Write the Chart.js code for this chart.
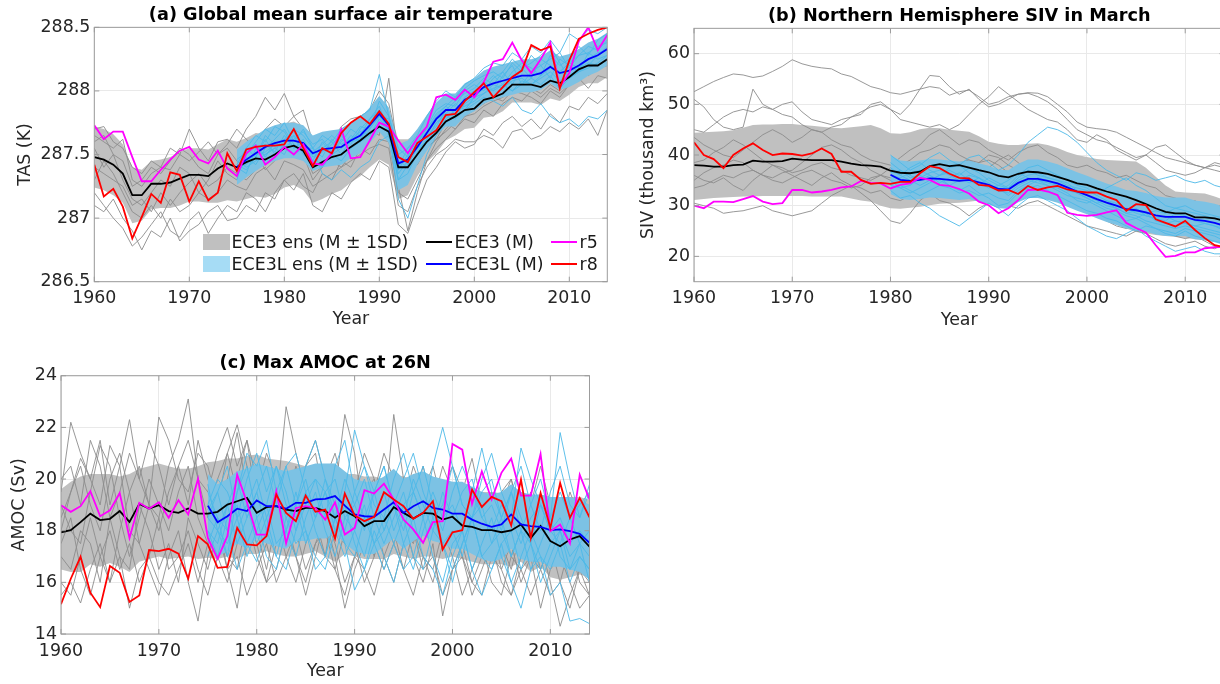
<!DOCTYPE html>
<html><head><meta charset="utf-8">
<script src="https://cdn.jsdelivr.net/npm/chart.js@4.4.1/dist/chart.umd.min.js"></script>
<style>
html,body{margin:0;padding:0;width:1220px;height:684px;overflow:hidden;background:#fff;}
canvas{position:absolute;}
.lg{position:absolute;font-family:"DejaVu Sans",sans-serif;font-size:17.4px;color:#1a1a1a;line-height:20px;white-space:nowrap;}
.sw{position:absolute;}
</style></head><body>
<canvas id="ca" width="620" height="340" style="left:0;top:0"></canvas>
<canvas id="cb" width="620" height="340" style="left:620px;top:0"></canvas>
<canvas id="cc" width="620" height="344" style="left:0;top:340px"></canvas>
<div id="legend"></div>
<script>
// ---------------- common ticks ----------------
const E3_START = 1960;
const X_TICKS = [1960, 1970, 1980, 1990, 2000, 2010];
const X_TICK_LABELS = ['1960', '1970', '1980', '1990', '2000', '2010'];

// ================= (a) Global mean surface air temperature =================
const TAS_L_START = 1975;
const TAS_Y_TICKS = [286.5, 287, 287.5, 288, 288.5];
const TAS_Y_LABELS = ['286.5', '287', '287.5', '288', '288.5'];
const TAS_E3_MEAN = [
287.48,287.46,287.42,287.35,287.18,287.18,287.27,287.27,287.28,287.31,
287.34,287.34,287.33,287.39,287.43,287.40,287.44,287.47,287.46,287.50,
287.55,287.57,287.53,287.40,287.44,287.48,287.50,287.56,287.61,287.67,
287.72,287.68,287.40,287.40,287.50,287.60,287.67,287.76,287.80,287.85,
287.86,287.93,287.95,287.98,288.05,288.05,288.05,288.03,288.08,288.06,
288.11,288.17,288.20,288.20,288.25];
const TAS_E3_HI = [
287.72,287.70,287.66,287.58,287.40,287.38,287.45,287.46,287.48,287.52,
287.55,287.55,287.54,287.58,287.62,287.60,287.63,287.67,287.66,287.70,
287.74,287.76,287.72,287.60,287.64,287.68,287.70,287.75,287.80,287.85,
287.90,287.86,287.62,287.62,287.67,287.76,287.83,287.91,287.95,288.00,
288.01,288.07,288.10,288.12,288.19,288.19,288.19,288.17,288.22,288.20,
288.25,288.31,288.34,288.34,288.39];
const TAS_E3_LO = [
287.24,287.22,287.18,287.12,286.96,286.98,287.07,287.08,287.08,287.10,
287.13,287.13,287.12,287.12,287.14,287.13,287.15,287.17,287.16,287.19,
287.24,287.26,287.22,287.12,287.15,287.19,287.22,287.28,287.33,287.40,
287.46,287.42,287.15,287.18,287.33,287.44,287.51,287.61,287.65,287.70,
287.71,287.79,287.80,287.84,287.91,287.91,287.91,287.89,287.94,287.92,
287.97,288.03,288.06,288.06,288.11];
const TAS_E3L_MEAN = [
287.40,287.46,287.51,287.56,287.59,
287.61,287.61,287.59,287.51,287.54,287.55,287.56,287.61,287.65,287.73,
287.82,287.73,287.43,287.46,287.56,287.67,287.78,287.85,287.85,287.93,
287.97,288.03,288.06,288.08,288.10,288.12,288.12,288.14,288.19,288.14,
288.16,288.20,288.25,288.28,288.33];
const TAS_E3L_HI = [
287.54,287.60,287.65,287.70,287.73,
287.75,287.75,287.73,287.65,287.68,287.69,287.70,287.75,287.79,287.87,
287.96,287.87,287.58,287.61,287.70,287.81,287.91,287.98,287.98,288.06,
288.10,288.16,288.19,288.21,288.23,288.25,288.25,288.27,288.32,288.27,
288.29,288.33,288.38,288.41,288.46];
const TAS_E3L_LO = [
287.26,287.32,287.37,287.42,287.45,
287.47,287.47,287.45,287.37,287.40,287.41,287.42,287.47,287.51,287.59,
287.68,287.59,287.22,287.26,287.42,287.53,287.65,287.72,287.72,287.80,
287.84,287.90,287.93,287.95,287.97,287.99,287.99,288.01,288.06,288.01,
288.03,288.07,288.12,288.15,288.20];
const TAS_R5 = [
287.73,287.62,287.68,287.68,287.48,287.29,287.29,287.38,287.46,287.53,
287.56,287.46,287.43,287.53,287.39,287.33,287.51,287.57,287.42,287.48,
287.56,287.50,287.58,287.43,287.42,287.51,287.70,287.47,287.48,287.61,
287.75,287.72,287.61,287.51,287.63,287.72,287.95,287.97,287.93,288.01,
287.95,288.07,288.23,288.25,288.38,288.24,288.14,288.25,288.38,288.03,
288.14,288.39,288.50,288.32,288.44];
const TAS_R8 = [
287.42,287.17,287.23,287.09,286.84,287.01,287.19,287.12,287.36,287.34,
287.13,287.29,287.14,287.20,287.51,287.37,287.54,287.56,287.57,287.57,
287.58,287.70,287.55,287.41,287.55,287.51,287.67,287.75,287.80,287.74,
287.84,287.74,287.48,287.44,287.59,287.64,287.69,287.81,287.82,287.92,
287.99,288.06,287.95,288.03,288.11,288.16,288.36,288.32,288.35,288.02,
288.24,288.41,288.45,288.48,288.50];
const TAS_E3_MEMBERS = [
[287.70,287.72,287.60,287.55,287.40,287.35,287.45,287.40,287.55,287.50,
 287.70,287.55,287.45,287.60,287.62,287.55,287.70,287.80,287.95,287.85,
 287.98,287.80,287.70,287.55,287.65,287.60,287.72,287.78,287.80,287.85,
 288.00,287.90,287.55,287.50,287.62,287.70,287.80,287.88,287.92,287.98,
 288.00,288.05,288.10,288.05,288.15,288.12,288.20,288.10,288.18,288.15,
 288.22,288.30,288.28,288.35,288.40],
[287.20,287.10,287.00,286.92,286.78,286.85,286.95,287.05,286.90,286.85,
 286.98,287.05,286.88,287.00,287.10,287.05,287.20,287.15,287.05,287.20,
 287.30,287.22,287.35,287.10,287.05,287.20,287.15,287.28,287.35,287.30,
 287.45,287.40,286.95,286.88,287.10,287.30,287.40,287.52,287.60,287.55,
 287.58,287.70,287.65,287.75,287.80,287.72,287.78,287.70,287.82,287.75,
 287.88,287.85,287.95,287.90,287.98],
[287.55,287.40,287.50,287.30,287.15,287.10,287.20,287.30,287.25,287.40,
 287.35,287.20,287.30,287.45,287.35,287.30,287.40,287.50,287.38,287.45,
 287.60,287.65,287.50,287.30,287.40,287.50,287.55,287.52,287.60,287.70,
 287.65,288.10,287.45,287.30,287.45,287.55,287.62,287.75,287.70,287.80,
 287.85,287.90,287.95,287.92,288.00,288.10,288.02,287.98,288.05,288.00,
 288.10,288.15,288.12,288.18,288.20],
[287.30,287.45,287.35,287.20,287.05,287.00,287.10,287.00,287.15,287.05,
 287.10,287.20,287.15,287.20,287.30,287.25,287.22,287.35,287.40,287.30,
 287.45,287.42,287.38,287.25,287.30,287.35,287.40,287.45,287.50,287.55,
 287.58,287.55,287.10,287.05,287.25,287.40,287.50,287.55,287.62,287.60,
 287.60,287.65,287.62,287.55,287.68,287.70,287.62,287.65,287.72,287.68,
 287.75,287.70,287.78,287.65,287.85],
[287.65,287.60,287.55,287.62,287.30,287.25,287.35,287.40,287.38,287.50,
 287.45,287.52,287.60,287.50,287.58,287.70,287.62,287.55,287.70,287.78,
 287.72,287.80,287.85,287.60,287.55,287.65,287.70,287.68,287.75,287.80,
 287.88,287.82,287.50,287.45,287.60,287.72,287.78,287.85,287.95,288.00,
 287.98,288.10,288.12,288.08,288.18,288.22,288.15,288.20,288.25,288.18,
 288.28,288.32,288.35,288.30,288.42],
[287.10,287.05,287.15,287.00,286.90,286.75,286.90,286.85,287.00,286.82,
 286.90,286.95,287.05,287.10,286.98,287.00,287.10,287.05,287.20,287.15,
 287.30,287.35,287.25,287.20,287.35,287.30,287.45,287.40,287.55,287.50,
 287.62,287.60,287.20,287.15,287.30,287.45,287.55,287.62,287.70,287.78,
 287.75,287.85,287.80,287.90,287.95,287.92,288.00,287.95,288.02,287.98,
 288.05,288.10,288.02,288.12,288.10],
[287.60,287.65,287.50,287.45,287.25,287.30,287.40,287.35,287.45,287.55,
 287.50,287.40,287.35,287.50,287.55,287.45,287.52,287.60,287.65,287.58,
 287.62,287.70,287.60,287.45,287.50,287.58,287.62,287.70,287.72,287.78,
 287.80,287.75,287.25,286.90,287.20,287.45,287.60,287.70,287.78,287.82,
 287.90,287.95,287.98,288.00,288.05,288.02,288.10,288.05,288.12,288.10,
 288.15,288.20,288.25,288.22,288.30],
[287.40,287.35,287.30,287.25,287.10,287.15,287.05,287.20,287.10,287.20,
 287.28,287.35,287.25,287.30,287.40,287.35,287.30,287.38,287.45,287.55,
 287.50,287.48,287.55,287.35,287.40,287.45,287.40,287.50,287.58,287.62,
 287.70,287.65,287.35,287.38,287.42,287.55,287.62,287.68,287.75,287.80,
 287.82,287.88,287.92,287.95,288.00,287.98,287.95,287.90,288.00,287.95,
 288.05,288.10,288.15,288.18,288.20]];
const TAS_E3L_MEMBERS = [
[287.35,287.50,287.60,287.70,287.65,287.75,287.60,287.70,287.55,287.65,
 287.60,287.70,287.75,287.80,287.85,288.13,287.80,287.50,287.55,287.65,
 287.80,287.92,288.00,287.95,288.05,288.10,288.18,288.22,288.20,288.30,
 288.25,288.35,288.30,288.40,288.30,288.45,288.40,288.48,288.45,288.50],
[287.45,287.40,287.45,287.50,287.55,287.50,287.65,287.50,287.45,287.40,
 287.50,287.45,287.55,287.60,287.65,287.75,287.70,287.15,287.00,287.25,
 287.50,287.65,287.75,287.80,287.85,287.90,287.95,287.92,287.88,287.95,
 287.85,287.82,287.90,287.80,287.75,287.78,287.72,287.80,287.78,287.85],
[287.30,287.55,287.65,287.60,287.72,287.68,287.55,287.60,287.45,287.60,
 287.50,287.62,287.58,287.70,287.78,287.85,287.65,287.35,287.45,287.60,
 287.72,287.85,287.90,287.88,288.00,288.05,288.00,288.10,288.15,288.05,
 288.18,288.10,288.25,288.20,288.15,288.22,288.28,288.30,288.35,288.38],
[287.42,287.38,287.48,287.62,287.50,287.58,287.70,287.65,287.55,287.48,
 287.62,287.55,287.65,287.60,287.70,287.80,287.78,287.45,287.40,287.50,
 287.62,287.75,287.82,287.90,287.85,287.95,288.08,288.00,288.12,288.20,
 288.05,288.15,288.20,288.10,288.25,288.20,288.15,288.30,288.25,288.28],
[287.38,287.48,287.42,287.55,287.62,287.70,287.58,287.52,287.50,287.55,
 287.60,287.50,287.62,287.68,287.65,287.78,287.70,287.40,287.55,287.60,
 287.68,287.80,287.88,287.82,287.95,288.00,288.05,288.12,288.05,288.15,
 288.22,288.18,288.12,288.28,288.20,288.25,288.35,288.28,288.40,288.45],
[287.46,287.52,287.58,287.48,287.60,287.55,287.62,287.68,287.58,287.62,
 287.52,287.60,287.70,287.65,287.78,287.88,287.68,287.48,287.42,287.58,
 287.72,287.78,287.82,287.80,287.90,287.95,288.02,288.00,288.05,288.00,
 288.08,288.05,288.10,288.15,288.08,288.12,288.18,288.22,288.20,288.25],
[287.40,287.35,287.55,287.58,287.52,287.65,287.55,287.62,287.48,287.52,
 287.58,287.65,287.55,287.62,287.75,287.82,287.75,287.38,287.50,287.55,
 287.65,287.72,287.85,287.92,287.98,288.02,288.10,288.05,288.15,288.25,
 288.18,288.22,288.28,288.35,288.22,288.10,288.15,288.20,288.28,288.35],
[287.35,287.45,287.50,287.52,287.58,287.55,287.50,287.55,287.55,287.35,
 287.30,287.38,287.32,287.40,287.45,287.60,287.65,287.30,287.42,287.55,
 287.60,287.70,287.78,287.85,287.88,287.92,287.98,288.05,288.02,288.08,
 288.10,288.05,288.12,288.18,288.15,288.22,288.18,288.25,288.30,288.32],
[287.42,287.55,287.48,287.65,287.58,287.62,287.68,287.55,287.52,287.58,
 287.65,287.58,287.62,287.72,287.70,287.92,287.80,287.55,287.48,287.62,
 287.70,287.82,287.88,287.95,288.02,288.08,288.12,288.15,288.10,288.22,
 288.15,288.28,288.20,288.25,288.30,288.18,288.28,288.35,288.32,288.40],
[287.40,287.42,287.52,287.50,287.55,287.60,287.65,287.58,287.50,287.55,
 287.50,287.55,287.60,287.62,287.72,287.80,287.72,287.30,287.35,287.52,
 287.62,287.75,287.80,287.78,287.85,287.95,287.98,288.02,288.05,288.00,
 288.05,288.10,288.05,288.12,288.02,288.10,288.15,288.18,288.22,288.28]];

// ================= (b) Northern Hemisphere SIV in March =================
const SIV_L_START = 1980;
const SIV_Y_TICKS = [20, 30, 40, 50, 60];
const SIV_Y_LABELS = ['20', '30', '40', '50', '60'];
const SIV_E3_MEAN = [
38.0,37.9,37.7,37.7,38.0,38.1,38.9,38.7,38.7,38.8,
39.3,39.1,39.0,39.0,39.0,38.7,38.3,38.0,37.9,37.7,
36.9,36.5,36.4,36.7,37.8,38.2,37.8,38.0,37.5,37.0,
36.6,35.9,35.6,36.3,36.7,36.6,36.3,35.7,35.1,34.4,
34.1,33.4,32.8,32.3,31.8,31.1,30.3,29.5,28.8,28.5,
28.5,27.7,27.7,27.5,27.0];
const SIV_E3_HI = [
44.4,44.5,44.6,44.7,44.9,45.4,45.9,46.0,46.0,46.1,
46.1,45.9,45.8,45.6,45.4,45.3,45.5,45.7,45.9,45.3,
44.3,44.2,44.5,45.1,45.4,45.3,45.0,44.8,44.6,43.7,
42.6,42.2,42.0,42.0,42.2,42.3,42.0,41.4,40.6,40.0,
39.6,39.2,39.0,38.9,38.8,38.7,37.5,35.7,34.0,32.8,
32.6,32.5,32.4,31.8,31.1];
const SIV_E3_LO = [
31.1,31.3,31.5,31.6,31.7,31.8,31.8,31.9,31.9,31.9,
31.9,31.9,31.8,31.8,31.8,31.8,31.4,31.0,30.8,30.0,
29.5,29.4,29.6,29.8,30.1,30.4,30.5,30.6,30.8,31.0,
31.1,31.3,31.5,31.7,31.9,32.1,31.6,30.9,30.2,29.4,
28.7,27.8,27.0,26.3,25.5,24.8,24.5,24.2,24.0,23.8,
23.6,23.4,23.2,22.9,22.6];
const SIV_E3L_MEAN = [
36.1,35.1,34.9,35.1,35.4,35.3,35.1,34.9,35.1,34.6,
34.1,33.3,33.2,34.5,35.3,35.3,34.9,34.4,33.6,32.8,
32.1,31.3,30.6,30.0,29.3,29.1,28.7,28.1,27.8,27.8,
27.8,27.2,27.0,26.6,26.0];
const SIV_E3L_HI = [
39.9,38.9,38.7,38.9,39.2,39.1,38.9,38.7,38.9,38.4,
37.9,37.1,37.0,38.3,39.1,39.1,38.7,38.2,37.4,36.6,
35.9,35.1,34.4,33.8,33.1,32.9,32.5,31.9,31.6,31.6,
31.6,31.0,30.8,30.4,29.8];
const SIV_E3L_LO = [
32.3,31.3,31.1,31.3,31.6,31.5,31.3,31.1,31.3,30.8,
30.3,29.5,29.4,30.7,31.5,31.5,31.1,30.6,29.8,29.0,
28.3,27.5,26.8,26.2,25.5,25.3,24.9,24.3,24.0,24.0,
24.0,23.4,23.2,22.8,22.2];
const SIV_R5 = [
30.0,29.5,30.8,30.8,30.7,31.3,31.9,30.8,30.3,30.5,
33.1,33.1,32.6,32.8,33.1,33.6,33.8,34.9,34.5,34.4,
33.4,34.1,34.4,35.5,35.1,34.1,33.9,33.3,32.4,30.8,
30.1,28.5,29.5,31.1,33.1,33.2,32.8,32.1,28.6,28.2,
28.0,28.2,28.7,29.1,26.6,25.6,24.7,22.2,19.9,20.1,
20.8,20.8,21.6,21.8,21.9];
const SIV_R8 = [
42.5,40.0,39.2,37.4,40.0,41.3,42.3,41.0,40.0,40.3,
40.2,39.9,40.3,41.3,40.2,36.7,36.7,35.1,34.3,34.5,
34.3,34.7,34.7,36.4,37.8,37.4,36.3,35.5,35.4,34.1,
33.9,33.0,33.1,32.3,33.9,33.1,33.6,33.9,33.2,32.8,
32.6,32.6,31.8,31.1,29.0,30.3,30.1,27.3,26.6,25.9,
27.0,25.2,23.6,22.2,21.8];
const SIV_E3_MEMBERS = [
[52.5,53.5,54.5,55.3,56.0,55.8,55.3,55.6,56.5,57.5,
 58.8,58.0,57.5,57.2,57.0,56.0,55.5,54.5,53.5,53.0,
 52.3,52.0,52.5,53.0,53.5,53.2,51.8,52.5,52.8,51.5,
 50.0,50.5,51.5,52.0,52.3,52.2,51.5,50.0,48.5,46.5,
 45.5,45.2,45.0,44.5,43.5,42.5,41.5,40.5,39.5,39.0,
 38.5,38.0,37.5,37.0,36.5],
[51.0,49.5,47.0,45.5,45.0,45.5,53.0,50.0,49.0,48.0,
 47.5,46.0,45.0,44.5,45.5,46.0,47.5,48.5,49.5,50.0,
 49.0,48.0,50.0,53.0,55.7,55.5,53.5,52.0,53.0,51.0,
 49.5,50.0,51.0,52.0,52.2,51.5,50.5,49.0,47.0,45.0,
 44.0,43.0,42.5,41.5,40.5,39.5,40.0,38.5,37.0,36.5,
 36.0,36.5,37.5,38.0,37.5],
[45.0,44.5,46.0,47.5,48.5,49.0,48.5,49.5,49.0,50.0,
 50.5,48.5,47.0,46.5,46.0,47.0,47.5,48.0,50.0,50.5,
 49.0,47.0,46.5,46.0,45.5,46.0,45.0,46.0,48.0,50.0,
 51.5,53.5,52.0,50.5,49.0,48.0,47.0,46.5,45.0,43.0,
 42.5,44.0,43.0,41.0,40.0,39.0,40.0,41.5,42.0,40.5,
 39.0,38.0,37.5,38.5,38.0],
[36.0,35.0,34.5,35.5,34.0,33.0,35.0,36.5,38.0,37.0,
 36.0,35.0,34.0,35.5,36.5,35.0,34.0,33.5,32.5,33.0,
 31.5,31.0,32.0,33.5,35.0,36.0,37.5,38.5,39.0,38.0,
 37.5,39.0,40.0,38.5,37.0,38.0,37.5,36.0,35.5,36.0,
 35.0,34.5,33.5,32.0,31.5,30.5,30.0,29.0,28.0,27.5,
 27.0,26.5,25.5,24.5,24.0],
[30.5,30.0,29.5,28.5,28.8,29.0,29.5,30.0,29.0,28.5,
 28.0,28.5,29.0,30.5,32.0,33.0,34.0,32.5,31.0,29.0,
 27.0,26.5,28.5,31.0,32.5,31.0,30.5,29.5,28.0,29.5,
 30.5,31.0,30.0,29.5,30.5,31.0,30.0,29.0,28.0,27.0,
 26.0,25.5,25.0,24.5,24.0,25.0,24.5,23.5,22.5,22.0,
 22.5,23.0,22.0,21.5,22.5],
[38.5,39.0,40.5,41.5,43.0,42.0,40.5,39.0,38.0,37.5,
 36.5,37.0,38.0,38.5,37.5,37.0,36.0,35.5,35.0,36.0,
 37.5,38.0,39.0,40.5,41.0,42.0,41.5,40.0,39.0,38.5,
 40.0,39.5,38.0,37.0,36.5,35.5,36.0,37.0,36.5,35.0,
 34.0,33.0,32.5,33.0,32.0,31.0,30.0,29.5,28.5,28.0,
 27.5,27.0,26.0,25.5,26.0],
[33.5,34.0,35.0,36.0,35.5,36.5,37.0,36.0,35.0,34.5,
 35.5,36.5,37.0,36.0,35.0,34.5,33.5,34.0,35.5,36.0,
 35.0,33.5,32.5,31.5,32.0,33.0,33.5,34.5,35.0,34.0,
 33.0,32.0,31.5,32.5,34.0,35.0,34.5,33.5,32.0,30.5,
 29.0,28.0,27.0,26.0,25.5,26.5,27.0,26.0,25.0,24.0,
 23.5,24.0,23.0,22.0,21.5],
[43.5,42.0,41.0,40.0,39.5,41.0,42.5,44.0,45.0,44.0,
 42.5,43.5,45.0,44.5,43.0,42.0,41.5,40.0,39.0,38.5,
 38.0,39.5,41.0,42.0,44.0,45.0,43.5,42.0,43.0,42.5,
 41.0,40.0,39.0,40.5,41.5,42.0,40.5,39.5,38.0,37.5,
 38.0,37.0,36.5,35.5,36.0,35.0,34.0,33.5,32.0,31.5,
 30.5,31.0,29.5,29.0,28.5],
[35.0,36.5,37.5,38.0,39.0,38.5,37.0,36.0,35.5,36.5,
 37.0,38.5,40.0,41.5,42.0,41.0,39.5,38.5,37.0,36.0,
 35.5,36.5,37.5,36.0,35.0,34.0,35.0,36.0,37.0,38.5,
 39.0,38.0,36.5,35.0,34.5,33.5,33.0,32.5,33.5,34.0,
 33.0,32.0,31.0,30.0,29.0,28.5,29.0,28.0,27.5,26.5,
 26.0,25.5,25.0,24.5,24.0]];
const SIV_E3L_MEMBERS = [
[40.0,38.5,37.0,38.0,39.5,40.5,39.0,38.0,39.5,40.0,
 38.5,37.0,38.0,40.0,42.5,44.0,45.5,45.0,44.0,42.5,
 40.5,38.5,37.0,36.0,35.0,36.5,36.0,35.0,35.5,36.0,
 35.0,34.5,35.0,34.0,33.5],
[33.0,31.5,32.0,30.5,29.5,28.0,27.0,26.0,27.5,29.0,
 30.5,29.5,28.0,30.0,31.5,32.0,31.0,30.0,29.0,27.5,
 26.0,25.0,24.0,23.5,24.5,25.5,24.0,23.0,22.0,21.0,
 21.5,22.0,21.0,20.5,20.5],
[37.5,36.0,37.5,38.5,37.0,36.0,37.5,38.0,36.5,35.5,
 34.0,33.0,34.0,36.0,37.5,38.0,37.0,36.0,35.0,34.0,
 33.5,32.0,31.0,30.5,29.0,29.5,28.0,27.5,27.0,28.5,
 28.0,27.0,26.5,26.0,25.0],
[34.0,33.5,32.5,33.5,34.5,35.5,34.0,33.0,34.0,32.5,
 31.5,30.0,30.5,32.5,33.5,34.0,33.0,32.0,31.0,30.0,
 29.0,28.5,27.5,27.0,26.0,25.0,26.0,25.5,24.5,24.0,
 25.0,24.0,23.5,23.0,22.5],
[36.5,37.0,36.0,35.0,36.0,34.5,35.5,36.5,35.0,34.0,
 35.5,34.5,33.5,35.0,36.0,36.5,35.5,35.0,34.0,33.5,
 33.0,32.0,33.5,34.5,35.5,34.0,33.0,31.5,30.0,29.5,
 30.0,29.0,28.5,28.0,27.5],
[35.0,33.5,34.0,35.5,36.5,37.0,36.0,35.0,36.0,35.5,
 34.5,33.0,32.5,34.0,35.0,34.5,34.0,33.0,32.0,31.5,
 31.0,30.0,29.0,28.0,27.0,27.5,26.5,25.5,25.0,24.5,
 25.5,25.0,24.5,24.0,23.0],
[38.5,37.0,35.5,36.0,35.0,36.0,37.0,36.0,37.5,36.5,
 35.0,34.0,33.5,35.5,37.0,36.0,35.5,35.0,34.5,33.0,
 32.0,31.0,30.0,29.5,28.5,29.0,28.5,27.0,26.5,27.0,
 26.5,26.0,25.5,25.0,24.5],
[33.5,34.0,33.0,32.0,33.0,34.0,33.5,32.5,33.0,32.0,
 32.5,31.5,31.0,33.0,34.0,35.0,34.0,33.5,32.5,31.0,
 30.5,31.5,30.5,29.5,28.5,28.0,27.0,26.5,26.0,25.5,
 26.0,25.5,25.0,24.5,24.0],
[36.0,35.5,36.5,37.0,36.0,35.0,34.0,35.0,35.5,34.5,
 33.5,34.0,35.0,36.5,35.5,35.0,34.5,34.0,33.0,32.5,
 31.5,30.5,29.5,29.0,28.0,27.5,28.5,29.0,28.5,29.5,
 29.0,28.5,28.0,27.5,27.0],
[37.0,36.0,35.0,34.0,35.0,36.0,36.5,35.5,34.5,35.5,
 34.0,33.5,32.0,33.5,34.5,35.5,35.0,34.0,33.5,32.5,
 31.5,30.5,31.0,30.0,29.5,28.5,28.0,27.5,28.0,27.0,
 26.5,26.0,26.5,26.0,25.5]];

// ================= (c) Max AMOC at 26N =================
const AMOC_L_START = 1975;
const AMOC_Y_TICKS = [14, 16, 18, 20, 22, 24];
const AMOC_Y_LABELS = ['14', '16', '18', '20', '22', '24'];
const AMOC_E3_MEAN = [
17.94,18.02,18.33,18.66,18.41,18.46,18.76,18.34,19.04,18.86,
18.99,18.76,18.69,18.86,18.66,18.66,18.73,19.01,19.14,19.27,
18.69,18.91,18.95,18.82,18.76,18.88,18.88,18.76,18.50,18.76,
18.56,18.18,18.37,18.37,18.91,18.69,18.47,18.69,18.66,18.43,
18.54,18.20,18.15,18.02,18.02,17.94,18.01,18.24,17.72,18.18,
17.60,17.40,17.66,17.79,17.38];
const AMOC_E3_HI = [
19.6,19.9,20.1,20.2,20.2,20.2,20.1,20.2,20.4,20.5,
20.6,20.5,20.4,20.4,20.5,20.65,20.7,20.8,20.8,20.9,
20.95,20.8,20.75,20.7,20.6,20.5,20.4,20.4,20.3,20.2,
20.2,20.1,20.1,20.0,20.2,20.1,20.0,19.9,19.9,19.8,
19.7,19.6,19.6,19.5,19.5,19.45,19.5,19.5,19.3,19.4,
19.3,19.2,19.3,19.3,19.2];
const AMOC_E3_LO = [
16.5,16.4,16.4,16.7,16.6,16.75,16.6,16.4,16.8,16.9,
17.0,16.9,16.95,17.0,16.9,16.95,16.9,17.0,16.9,17.1,
17.1,17.2,17.1,17.0,17.0,17.1,17.2,17.0,16.8,17.1,
17.0,16.9,16.9,16.9,17.1,17.0,16.9,17.0,17.0,16.9,
17.0,16.9,16.8,16.7,16.7,16.7,16.6,16.8,16.4,16.6,
16.2,16.1,16.2,16.3,16.2];
const AMOC_E3L_MEAN = [
18.97,18.33,18.56,18.85,18.76,
19.17,18.95,18.95,18.85,19.08,19.08,19.21,19.23,19.34,18.97,
18.63,18.56,18.54,18.82,19.10,18.69,18.95,19.14,18.88,18.82,
18.66,18.66,18.43,18.27,18.15,18.24,18.63,18.24,18.18,18.15,
18.02,18.05,17.98,17.88,17.53];
const AMOC_E3L_HI = [
20.2,19.8,20.0,20.3,20.4,
20.6,20.5,20.4,20.3,20.4,20.5,20.6,20.6,20.6,20.3,
20.0,19.9,19.9,20.1,20.4,20.0,20.2,20.3,20.1,20.0,
19.9,19.9,19.7,19.5,19.4,19.5,19.8,19.5,19.4,19.4,
19.3,19.3,19.3,19.2,19.0];
const AMOC_E3L_LO = [
17.6,17.0,17.2,17.5,17.3,
17.7,17.5,17.4,17.3,17.6,17.6,17.7,17.7,17.9,17.5,
17.2,17.1,17.1,17.4,17.7,17.3,17.6,17.8,17.6,17.5,
17.3,17.3,17.1,16.9,16.8,16.9,17.3,16.9,16.8,16.8,
16.6,16.6,16.5,16.4,16.1];
const AMOC_R5 = [
18.99,18.73,18.95,19.53,18.56,18.79,19.46,17.72,19.08,18.85,
19.10,18.50,19.18,18.63,20.01,17.72,16.91,17.79,20.17,19.10,
17.85,17.85,19.53,17.51,18.88,18.95,18.88,18.43,19.10,17.85,
18.11,19.57,19.44,19.82,19.21,18.43,18.05,17.53,18.33,18.37,
21.36,21.14,19.04,20.30,19.21,20.24,20.79,19.36,19.36,20.97,
17.98,18.24,17.51,20.17,19.21];
const AMOC_R8 = [
15.15,16.14,16.99,15.60,15.04,16.63,16.37,15.24,15.49,17.25,
17.21,17.30,17.11,16.14,17.79,17.47,16.56,16.60,18.11,17.47,
17.43,17.79,19.40,18.69,18.37,19.36,18.73,18.82,17.69,19.44,
18.59,18.37,18.54,19.49,19.21,18.95,18.46,18.69,19.14,17.27,
17.94,18.02,19.59,18.92,19.31,19.14,18.20,19.98,17.72,19.46,
18.11,19.85,18.50,19.27,18.52];
const AMOC_E3_MEMBERS = [
[19.5,22.2,21.0,20.0,19.0,21.3,20.5,18.0,17.5,19.0,
 22.4,21.5,20.0,19.5,21.0,20.5,19.0,20.0,21.8,19.5,
 18.5,17.5,19.0,22.8,21.0,19.5,18.0,17.0,19.5,22.5,
 21.0,18.5,17.0,19.0,18.0,17.5,19.0,20.5,19.0,17.5,
 18.0,19.5,18.0,17.0,18.5,17.5,16.5,18.0,17.0,16.5,
 17.5,18.0,16.8,17.5,16.5],
[16.0,15.5,17.0,18.5,17.0,16.0,18.0,19.5,17.5,16.5,
 15.5,17.0,18.0,16.0,14.5,17.0,18.5,16.5,15.0,17.5,
 18.0,16.5,18.5,17.0,16.0,17.5,18.5,17.0,16.5,18.0,
 17.5,16.0,17.0,18.5,17.5,16.5,18.0,17.0,16.0,17.5,
 18.5,17.0,16.0,15.5,17.0,16.5,15.5,17.0,18.0,16.5,
 15.5,16.0,17.5,16.0,15.5],
[18.5,19.5,20.8,20.0,21.5,19.0,20.5,22.3,20.0,19.0,
 18.5,20.5,21.5,23.1,20.0,19.5,21.0,22.0,20.5,21.5,
 19.0,18.0,20.0,19.5,18.5,20.5,21.0,19.0,18.0,17.5,
 19.5,21.0,20.0,18.5,22.5,20.0,19.5,18.0,19.0,20.5,
 19.5,18.5,17.5,18.0,19.0,18.5,17.0,18.5,19.5,18.0,
 17.0,18.5,17.5,18.0,17.0],
[15.5,16.0,15.2,16.5,17.5,16.0,17.0,15.0,16.5,17.0,
 16.0,15.5,16.5,17.5,16.0,17.5,18.0,16.5,17.0,15.5,
 16.5,17.5,16.0,17.0,18.0,16.5,17.5,18.5,17.0,15.0,
 16.5,17.5,18.5,17.0,16.0,17.5,18.0,16.5,17.0,15.5,
 16.5,17.0,15.5,16.5,17.5,16.0,15.5,16.5,17.0,15.0,
 16.5,17.0,16.0,15.0,15.5],
[20.0,20.5,19.0,21.5,20.5,18.5,19.5,21.0,20.0,21.5,
 20.5,19.0,20.5,21.5,20.0,18.5,20.0,21.0,22.1,20.5,
 19.5,21.0,20.0,18.5,19.5,20.5,21.5,20.0,19.0,20.0,
 19.5,18.0,19.5,21.0,20.0,19.0,20.5,19.5,18.5,19.5,
 20.5,19.5,20.8,19.0,18.5,19.5,20.0,18.5,19.0,20.5,
 19.0,18.0,19.5,18.5,19.0],
[17.0,16.5,18.0,17.5,16.0,18.5,17.0,16.5,19.0,18.0,
 16.5,17.5,16.0,18.5,17.5,16.5,18.0,17.0,16.5,18.5,
 17.5,16.0,17.5,18.5,17.0,16.0,17.5,18.0,16.5,15.5,
 17.0,18.0,17.5,16.5,17.5,18.5,17.0,16.0,17.5,14.7,
 16.5,17.5,16.0,17.0,18.0,16.5,17.5,16.0,17.0,17.5,
 16.0,14.3,15.5,16.5,15.5],
[19.0,18.0,17.5,19.5,21.3,20.5,18.5,17.0,18.5,20.0,
 19.0,18.0,19.5,20.5,18.5,17.5,19.0,21.0,19.5,18.0,
 19.5,20.5,19.0,17.5,18.5,19.5,18.0,19.5,20.5,19.0,
 18.5,17.5,18.5,20.0,19.0,18.0,17.5,19.0,18.5,17.5,
 18.5,19.0,17.5,18.5,19.5,18.0,17.5,18.5,17.0,18.0,
 19.0,17.5,18.0,17.0,17.5],
[17.5,18.5,16.5,15.5,17.0,18.0,16.5,17.5,16.0,17.0,
 18.5,16.5,17.0,18.0,16.5,15.5,17.0,16.0,17.5,18.5,
 17.0,16.0,16.5,18.0,17.0,15.5,17.0,18.5,17.5,16.0,
 17.0,16.5,15.5,17.0,18.0,16.5,15.5,17.0,16.5,18.0,
 17.0,15.5,16.5,17.5,16.0,15.5,17.0,16.5,15.5,16.5,
 17.5,16.0,15.0,16.5,16.0],
[18.0,19.5,20.5,19.0,18.0,20.0,21.0,19.5,20.5,19.0,
 18.0,19.5,20.5,19.0,21.5,20.0,19.0,18.5,20.0,21.5,
 20.0,19.5,18.0,19.0,20.5,19.5,18.5,20.0,21.0,19.5,
 18.0,19.5,20.0,18.5,19.5,20.0,18.5,19.5,20.5,19.0,
 18.0,19.5,18.5,19.5,18.0,19.0,20.0,18.5,18.0,19.0,
 18.0,17.0,18.5,17.5,18.0]];
const AMOC_E3L_MEMBERS = [
[19.8,18.0,17.0,19.5,21.0,20.5,21.5,19.5,18.0,19.0,
 20.5,21.5,20.0,18.5,19.5,21.9,20.5,19.0,18.5,20.0,
 21.0,19.5,18.5,20.5,22.0,20.5,19.0,18.5,20.0,21.0,
 19.5,18.5,21.2,20.0,19.0,18.5,21.8,20.0,18.5,19.8],
[18.5,19.5,18.0,16.5,17.5,18.5,17.0,16.5,18.0,19.5,
 18.0,16.5,17.0,18.5,17.5,15.7,16.5,18.0,17.0,16.0,
 17.5,18.5,17.0,16.5,15.5,17.0,18.0,16.5,15.5,16.5,
 17.5,16.0,15.0,16.5,17.0,15.5,16.0,14.5,14.6,14.4],
[18.0,17.5,19.0,20.0,18.5,19.5,20.5,19.0,20.5,21.0,
 19.5,18.5,20.0,19.0,18.0,19.5,20.5,19.5,18.0,19.0,
 20.0,21.0,19.5,18.5,19.0,20.5,19.0,18.5,19.5,20.0,
 18.5,19.5,20.5,19.0,18.0,19.5,20.5,19.0,18.5,19.5],
[17.5,18.5,17.0,18.0,19.0,17.5,18.5,17.0,16.5,18.0,
 19.5,18.0,17.0,18.5,17.5,17.0,18.5,17.5,16.5,17.5,
 18.5,17.0,16.5,18.0,17.5,16.0,17.5,18.5,17.0,16.5,
 17.5,18.0,16.5,17.5,16.0,17.0,18.0,16.5,17.0,16.5],
[19.0,20.0,19.5,18.5,20.0,21.0,19.5,20.5,19.0,18.5,
 19.5,20.0,18.5,20.5,21.5,19.5,18.5,19.5,20.5,19.0,
 18.0,19.5,20.5,19.0,18.0,19.5,20.5,19.5,21.2,19.5,
 18.5,19.5,18.0,19.0,20.0,18.5,19.5,18.5,19.0,19.5],
[18.0,17.0,18.5,19.0,17.5,16.8,18.0,19.5,18.5,17.5,
 18.0,17.0,16.5,18.0,19.0,17.5,16.5,17.5,18.5,17.5,
 16.5,17.0,18.5,17.0,16.0,17.5,18.0,16.5,17.5,18.5,
 17.0,16.0,17.0,18.0,17.0,16.5,17.5,16.0,17.0,16.5],
[18.8,19.5,20.5,18.5,19.0,20.0,18.5,19.5,20.5,19.0,
 20.0,18.5,19.5,20.0,18.5,19.0,20.0,18.5,19.5,18.0,
 19.0,19.5,18.5,19.5,18.5,19.0,18.0,19.5,18.5,18.0,
 19.0,18.5,17.5,18.5,19.0,18.0,18.5,17.5,18.0,17.5],
[17.0,18.0,19.0,17.5,18.5,19.5,18.0,17.0,18.5,19.0,
 17.5,18.5,19.5,18.0,17.0,18.0,19.0,17.5,18.0,19.0,
 17.5,16.5,18.0,19.0,17.5,16.5,17.5,18.5,17.0,17.5,
 18.5,17.0,18.0,16.5,17.5,18.5,17.0,16.5,17.5,16.0],
[19.5,18.5,18.0,19.5,20.5,18.5,19.0,20.5,19.5,18.0,
 19.0,20.0,19.5,18.5,20.0,19.0,18.0,19.5,20.5,19.0,
 18.5,20.0,19.0,18.0,19.5,18.5,19.5,20.0,18.5,19.0,
 18.0,19.5,18.5,17.5,19.0,18.0,17.5,18.5,17.5,18.0],
[18.5,18.0,17.5,18.5,17.0,18.0,19.0,17.5,18.0,17.0,
 18.5,19.5,18.0,17.0,18.5,18.0,17.0,18.5,17.5,18.5,
 19.5,18.0,17.5,18.5,17.5,18.0,17.0,18.5,19.0,17.5,
 18.0,17.0,18.0,17.5,16.5,17.5,18.0,17.0,17.5,17.0]];

// ---------------- legend ----------------
const LEGEND_LABELS = ['ECE3 ens (M \u00B1 1SD)', 'ECE3L ens (M \u00B1 1SD)', 'ECE3 (M)', 'ECE3L (M)', 'r5', 'r8'];

// ---------------- styling ----------------
const FONT = "'DejaVu Sans', sans-serif";
const FS = 17.4;
const TICK_COLOR = '#262626';
const GRID_COLOR = '#e9e9e9';
const FRAME_COLOR = '#9c9c9c';
const GRAY_LINE = '#8c8c8c';
const GRAY_BAND = '#c0c0c0';
const CYAN_LINE = '#4db9e8';
const CYAN_BAND = '#7cc2e4';
const CYAN_BAND_LEGEND = '#a6dcf5';
const C_E3 = '#000000', C_E3L = '#0000ff', C_R5 = '#ff00ff', C_R8 = '#ff0000';

function pts(start, arr) { return arr.map((v, i) => ({x: start + i, y: v})); }

function buildDatasets(p) {
  const ds = [];
  const base = {pointRadius: 0, tension: 0, spanGaps: true};
  const loA = ds.length;
  ds.push(Object.assign({}, base, {data: pts(E3_START, p.e3Lo), borderWidth: 0, fill: false, order: 50}));
  ds.push(Object.assign({}, base, {data: pts(E3_START, p.e3Hi), borderWidth: 0, fill: {target: loA}, backgroundColor: GRAY_BAND, order: 50}));
  p.e3Members.forEach(m => ds.push(Object.assign({}, base, {data: pts(E3_START, m), borderColor: GRAY_LINE, borderWidth: 0.9, fill: false, order: 40})));
  const loB = ds.length;
  ds.push(Object.assign({}, base, {data: pts(p.lStart, p.lLo), borderWidth: 0, fill: false, order: 30}));
  ds.push(Object.assign({}, base, {data: pts(p.lStart, p.lHi), borderWidth: 0, fill: {target: loB}, backgroundColor: CYAN_BAND, order: 30}));
  p.lMembers.forEach(m => ds.push(Object.assign({}, base, {data: pts(p.lStart, m), borderColor: CYAN_LINE, borderWidth: 0.9, fill: false, order: 20})));
  ds.push(Object.assign({}, base, {data: pts(E3_START, p.e3Mean), borderColor: C_E3, borderWidth: 1.8, fill: false, order: 4}));
  ds.push(Object.assign({}, base, {data: pts(p.lStart, p.lMean), borderColor: C_E3L, borderWidth: 1.8, fill: false, order: 3}));
  ds.push(Object.assign({}, base, {data: pts(E3_START, p.r5), borderColor: C_R5, borderWidth: 1.8, fill: false, order: 2}));
  ds.push(Object.assign({}, base, {data: pts(E3_START, p.r8), borderColor: C_R8, borderWidth: 1.8, fill: false, order: 1}));
  return ds;
}

const framePlugin = {
  id: 'frame',
  afterDatasetsDraw(chart) {
    const {ctx, chartArea: a} = chart;
    const xs = chart.scales.x, ys = chart.scales.y;
    const TL = 5;
    ctx.save();
    ctx.strokeStyle = FRAME_COLOR;
    ctx.lineWidth = 1;
    ctx.beginPath();
    xs.ticks.forEach(t => {
      const px = xs.getPixelForValue(t.value);
      ctx.moveTo(px, a.bottom); ctx.lineTo(px, a.bottom - TL);
      ctx.moveTo(px, a.top); ctx.lineTo(px, a.top + TL);
    });
    ys.ticks.forEach(t => {
      const py = ys.getPixelForValue(t.value);
      ctx.moveTo(a.left, py); ctx.lineTo(a.left + TL, py);
      ctx.moveTo(a.right, py); ctx.lineTo(a.right - TL, py);
    });
    ctx.stroke();
    ctx.strokeRect(a.left, a.top, a.right - a.left, a.bottom - a.top);
    ctx.restore();
  }
};

function makeChart(id, p, c) {
  const font = {family: FONT, size: FS};
  return new Chart(document.getElementById(id), {
    type: 'line',
    data: {datasets: buildDatasets(p)},
    plugins: [framePlugin],
    options: {
      responsive: false, animation: false, events: [],
      layout: {padding: {left: 0, right: c.padRight, top: 0, bottom: 0}},
      plugins: {
        legend: {display: false}, tooltip: {enabled: false},
        title: {display: true, text: c.title, fullSize: false, color: '#000',
                font: {family: FONT, size: 17.7, weight: 'bold'},
                padding: {top: c.tTop, bottom: c.tBot}}
      },
      scales: {
        x: {
          type: 'linear', min: 1960, max: 2014,
          afterBuildTicks: ax => { ax.ticks = X_TICKS.map(v => ({value: v})); },
          afterFit: ax => { ax.height = c.xH; },
          grid: {color: GRID_COLOR, drawTicks: false, lineWidth: 1},
          border: {display: false},
          ticks: {font, color: TICK_COLOR, padding: c.xPad, maxRotation: 0, autoSkip: false,
                  callback: (v, i) => X_TICK_LABELS[i]},
          title: {display: true, text: 'Year', font, color: TICK_COLOR, padding: {top: 0, bottom: c.yearPad}}
        },
        y: {
          type: 'linear', min: c.yMin, max: c.yMax,
          afterBuildTicks: ax => { ax.ticks = p.yTicks.map(v => ({value: v})); },
          afterFit: ax => { ax.width = c.yW; },
          grid: {color: GRID_COLOR, drawTicks: false, lineWidth: 1},
          border: {display: false},
          ticks: {font, color: TICK_COLOR, padding: 4, autoSkip: false,
                  callback: (v, i) => p.yLabels[i]},
          title: {display: true, text: c.yTitle, font, color: TICK_COLOR, padding: {top: c.yTitlePad, bottom: 0}}
        }
      }
    }
  });
}

makeChart('ca', {
  e3Mean: TAS_E3_MEAN, e3Hi: TAS_E3_HI, e3Lo: TAS_E3_LO, e3Members: TAS_E3_MEMBERS,
  lStart: TAS_L_START, lMean: TAS_E3L_MEAN, lHi: TAS_E3L_HI, lLo: TAS_E3L_LO, lMembers: TAS_E3L_MEMBERS,
  r5: TAS_R5, r8: TAS_R8, yTicks: TAS_Y_TICKS, yLabels: TAS_Y_LABELS
}, {title: '(a) Global mean surface air temperature', yTitle: 'TAS (K)', yMin: 286.5, yMax: 288.5,
    yW: 94.3, padRight: 12.7, xH: 58.3, tTop: 4.4, tBot: 1.7, xPad: 6, yearPad: 10.5, yTitlePad: 15.4});

makeChart('cb', {
  e3Mean: SIV_E3_MEAN, e3Hi: SIV_E3_HI, e3Lo: SIV_E3_LO, e3Members: SIV_E3_MEMBERS,
  lStart: SIV_L_START, lMean: SIV_E3L_MEAN, lHi: SIV_E3L_HI, lLo: SIV_E3L_LO, lMembers: SIV_E3L_MEMBERS,
  r5: SIV_R5, r8: SIV_R8, yTicks: SIV_Y_TICKS, yLabels: SIV_Y_LABELS
}, {title: '(b) Northern Hemisphere SIV in March', yTitle: 'SIV (thousand km\u00B3)', yMin: 15, yMax: 65,
    yW: 74, padRight: 15.5, xH: 58.3, tTop: 5.4, tBot: 1.7, xPad: 6, yearPad: 9.5, yTitlePad: 17.6});

makeChart('cc', {
  e3Mean: AMOC_E3_MEAN, e3Hi: AMOC_E3_HI, e3Lo: AMOC_E3_LO, e3Members: AMOC_E3_MEMBERS,
  lStart: AMOC_L_START, lMean: AMOC_E3L_MEAN, lHi: AMOC_E3L_HI, lLo: AMOC_E3L_LO, lMembers: AMOC_E3L_MEMBERS,
  r5: AMOC_R5, r8: AMOC_R8, yTicks: AMOC_Y_TICKS, yLabels: AMOC_Y_LABELS
}, {title: '(c) Max AMOC at 26N', yTitle: 'AMOC (Sv)', yMin: 14, yMax: 24,
    yW: 61, padRight: 30.5, xH: 50, tTop: 12.4, tBot: 2.1, xPad: 7.3, yearPad: 1.9, yTitlePad: 9});

// ---------------- legend (panel a) ----------------
(function () {
  const host = document.getElementById('legend');
  const rows = [242, 264];
  const items = [
    {kind: 'patch', color: GRAY_BAND, x: 203, row: 0},
    {kind: 'patch', color: CYAN_BAND_LEGEND, x: 203, row: 1},
    {kind: 'line', color: C_E3, x: 426, row: 0},
    {kind: 'line', color: C_E3L, x: 426, row: 1},
    {kind: 'line', color: C_R5, x: 551, row: 0},
    {kind: 'line', color: C_R8, x: 551, row: 1}
  ];
  items.forEach((it, i) => {
    const cy = rows[it.row];
    const sw = document.createElement('div');
    sw.className = 'sw';
    if (it.kind === 'patch') {
      sw.style.cssText = `left:${it.x}px;top:${cy - 7.8}px;width:26.6px;height:15.6px;background:${it.color}`;
    } else {
      sw.style.cssText = `left:${it.x}px;top:${cy - 1}px;width:26px;height:2px;background:${it.color}`;
    }
    host.appendChild(sw);
    const t = document.createElement('div');
    t.className = 'lg';
    t.textContent = LEGEND_LABELS[i];
    t.style.left = (it.x + 28.6) + 'px';
    t.style.top = (cy - 10) + 'px';
    host.appendChild(t);
  });
})();
</script>
</body></html>
